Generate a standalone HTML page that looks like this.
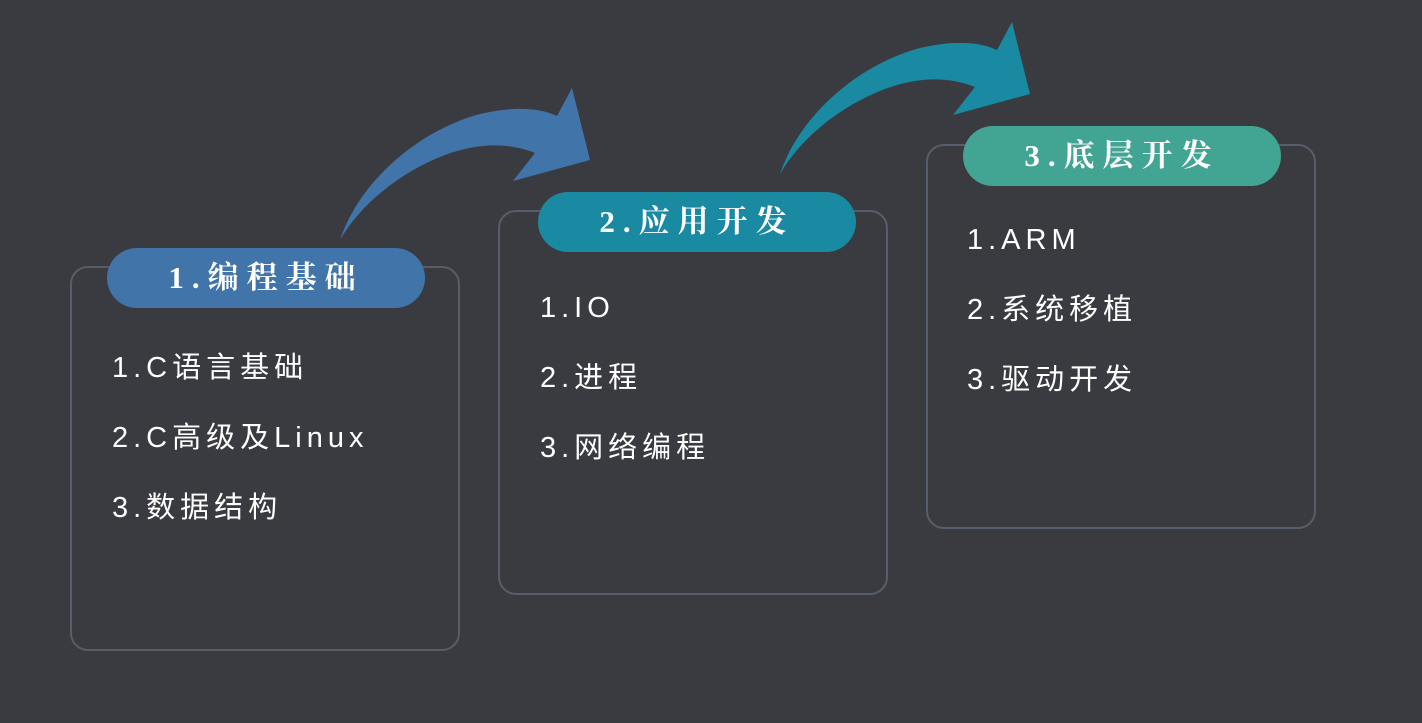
<!DOCTYPE html>
<html><head><meta charset="utf-8"><style>
body{margin:0;width:1422px;height:723px;background:#3a3b40;overflow:hidden;position:relative;font-family:"Liberation Sans","Noto Sans CJK SC",sans-serif;}
.box{position:absolute;width:390px;height:385px;border:2px solid #565e6b;border-radius:18px;box-sizing:border-box;}
.pill{position:absolute;width:318px;height:60px;border-radius:30px;color:#fff;font-family:"Liberation Serif","Noto Serif CJK SC",serif;font-size:31px;font-weight:bold;letter-spacing:8px;text-align:center;line-height:60px;}
.item{position:absolute;color:#fff;font-size:29px;letter-spacing:5px;line-height:36px;white-space:nowrap;}
svg{position:absolute;left:0;top:0;}
</style></head><body>
<svg width="1422" height="723">
<g id="a" fill="#4174a8">
<path d="M340,240 C360,180 420,130 480,114 C515,106 540,108 557,116 L572,88 L590,160 L513,181 L535,153 C510,143 480,142 445,155 C400,172 360,205 340,240 Z"/>
</g>
<g fill="#1a89a2" transform="translate(440,-66)">
<path d="M340,240 C360,180 420,130 480,114 C515,106 540,108 557,116 L572,88 L590,160 L513,181 L535,153 C510,143 480,142 445,155 C400,172 360,205 340,240 Z"/>
</g>
</svg>
<div class="box" style="left:70px;top:266px"></div>
<div class="box" style="left:498px;top:210px"></div>
<div class="box" style="left:926px;top:144px"></div>
<div class="pill" style="left:107px;top:248px;background:#4174a8">1.编程基础</div>
<div class="pill" style="left:538px;top:192px;background:#1a89a2">2.应用开发</div>
<div class="pill" style="left:963px;top:126px;background:#42a593">3.底层开发</div>
<div class="item" style="left:112px;top:350px">1.C语言基础</div>
<div class="item" style="left:112px;top:420px">2.C高级及Linux</div>
<div class="item" style="left:112px;top:490px">3.数据结构</div>
<div class="item" style="left:540px;top:290px">1.IO</div>
<div class="item" style="left:540px;top:360px">2.进程</div>
<div class="item" style="left:540px;top:430px">3.网络编程</div>
<div class="item" style="left:967px;top:222px">1.ARM</div>
<div class="item" style="left:967px;top:292px">2.系统移植</div>
<div class="item" style="left:967px;top:362px">3.驱动开发</div>
</body></html>
